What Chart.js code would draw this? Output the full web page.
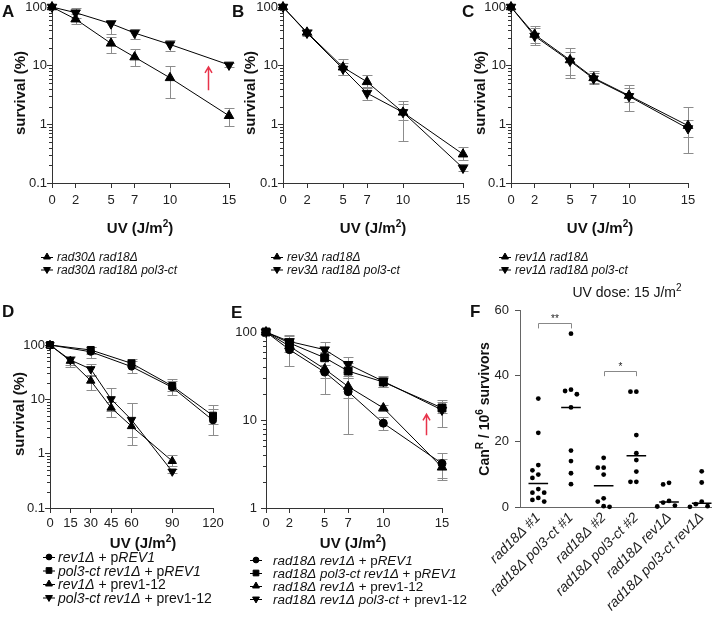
<!DOCTYPE html>
<html>
<head>
<meta charset="utf-8">
<title>UV survival and CanR mutagenesis</title>
<script src="https://cdn.jsdelivr.net/npm/chart.js@4.4.1/dist/chart.umd.min.js"></script>
<style>
  html, body { margin: 0; padding: 0; overflow: hidden; background: #fff; }
  #fig { position: relative; width: 712px; height: 618px; overflow: hidden; }
  #fig canvas { position: absolute; }
</style>
</head>
<body>
<div id="fig">
  <canvas id="panelA"></canvas>
  <canvas id="panelB"></canvas>
  <canvas id="panelC"></canvas>
  <canvas id="panelD"></canvas>
  <canvas id="panelE"></canvas>
  <canvas id="panelF"></canvas>
</div>
<script>
// values (survival in %, CanR per 10^6 survivors)

const doses = [0, 2, 5, 7, 10, 15];
const dosesDPlasmid = [0, 30, 60, 90, 120];
const dosesDMutant = [0, 15, 30, 45, 60, 90];
const doseTicks = [0, 2, 5, 7, 10, 15];
const doseTicksD = [0, 15, 30, 45, 60, 90, 120];
const survivalTicks = [0.1, 1, 10, 100];
const survivalTicksE = [1, 10, 100];

// A
const aLabels = ['*rad30Δ rad18Δ*', '*rad30Δ rad18Δ pol3-ct*'];
const aRad30 = [100, 62, 24, 14, 6.2, 1.4];
const aRad30Lo = [null, 51, 16.5, 10, 2.8, 0.95];
const aRad30Hi = [null, 75, 31, 19, 10, 1.9];
const aRad30Pol3 = [100, 80, 52, 36, 23, 10.3];
const aRad30Pol3Lo = [null, 66, 35, 28, 18, 9.6];
const aRad30Pol3Hi = [null, 95, 60, 42, 27, 11];

// B
const bLabels = ['*rev3Δ rad18Δ*', '*rev3Δ rad18Δ pol3-ct*'];
const bRev3 = [100, 37, 9.4, 5.3, 1.6, 0.31];
const bRev3Lo = [null, 33, 6.8, 4.3, 0.53, 0.25];
const bRev3Hi = [null, 42, 13, 7, 2.5, 0.41];
const bRev3Pol3 = [100, 36, 8.8, 3.4, 1.6, 0.18];
const bRev3Pol3Lo = [null, 32, 7, 2.55, 1.2, 0.16];
const bRev3Pol3Hi = [null, 41, 11, 4.2, 2.2, 0.21];

// C
const cLabels = ['*rev1Δ rad18Δ*', '*rev1Δ rad18Δ pol3-ct*'];
const cRev1 = [100, 34, 12.5, 6.2, 3.1, 0.95];
const cRev1Lo = [null, 22.8, 6.2, 4.8, 1.66, 0.33];
const cRev1Hi = [null, 48, 20, 8, 4.6, 1.95];
const cRev1Pol3 = [100, 32, 12, 6.0, 3.0, 0.85];
const cRev1Pol3Lo = [null, 24, 6.8, 5, 2.4, 0.6];
const cRev1Pol3Hi = [null, 44, 17, 7.4, 4.2, 1.2];

// D
const dLabels = ['*rev1Δ* + p*REV1*', '*pol3-ct rev1Δ* + p*REV1*', '*rev1Δ* + prev1-12', '*pol3-ct rev1Δ* + prev1-12'];
const dRev1Wt = [100, 75, 40, 16.6, 4.1];
const dRev1WtLo = [null, 58, 31, 12, 2.2];
const dRev1WtHi = [null, 92, 50, 22, 7.8];
const dPol3Wt = [100, 81, 46, 17.6, 5.0];
const dPol3WtLo = [null, 68, 40, 14, 3.5];
const dPol3WtHi = [null, 90, 55, 23.3, 6.5];
const dRev1Mut = [100, 51, 22, 7.0, 3.2, 0.73];
const dRev1MutLo = [null, 40, 14.8, 4.8, 1.45, 0.6];
const dRev1MutHi = [null, 62, 27, 9, 8.5, 0.95];
const dPol3Mut = [100, 53, 36, 10.1, 4.2, 0.47];
const dPol3MutLo = [null, 42, 28, 6, 2, 0.44];
const dPol3MutHi = [null, 60, 44, 16, 8.5, 0.52];

// E
const eLabels = ['*rad18Δ rev1Δ* + p*REV1*', '*rad18Δ pol3-ct rev1Δ* + p*REV1*', '*rad18Δ rev1Δ* + prev1-12', '*rad18Δ rev1Δ pol3-ct* + prev1-12'];
const eRev1Wt = [100, 63, 35, 21, 9.2, 3.2];
const eRev1WtLo = [null, 41, 20, 7, 7.6, 2.1];
const eRev1WtHi = [null, 92, 48, 30, 10.8, 4.2];
const ePol3Wt = [100, 75, 51, 36, 27, 13.7];
const ePol3WtLo = [null, 66, 42, 30, 24, 12];
const ePol3WtHi = [null, 85, 60, 45, 31, 17];
const eRev1Mut = [100, 69, 38, 24, 13.7, 2.9];
const eRev1MutLo = [null, 60, 30, 18, 12.5, 2.2];
const eRev1MutHi = [null, 80, 48, 32, 15, 3.6];
const ePol3Mut = [100, 78, 63, 43, 27.5, 13];
const ePol3MutLo = [null, 68, 55, 35, 23.5, 8.4];
const ePol3MutHi = [null, 91, 77, 52, 31.5, 16];

// F
const fCategories = ['rad18Δ #1', 'rad18Δ pol3-ct #1', 'rad18Δ #2', 'rad18Δ pol3-ct #2', 'rad18Δ rev1Δ', 'rad18Δ pol3-ct rev1Δ'];
const fRad18n1 = [33.1, 22.7, 12.9, 11.3, 10.0, 9.0, 5.6, 4.5, 4.5, 2.9, 2.3, 1.8];
const fPol3n1 = [52.8, 35.8, 35.4, 34.4, 30.4, 17.3, 14.1, 10.4, 7.1];
const fRad18n2 = [15.1, 12.1, 12.1, 10.0, 2.8, 1.8, 0.4, 0.2];
const fPol3n2 = [35.2, 35.2, 22.0, 16.5, 14.4, 10.9, 7.8, 7.8];
const fRev1 = [7.5, 7.0, 2.0, 1.5, 0.6, 0.3];
const fPol3Rev1 = [11.0, 7.6, 1.8, 1.0, 0.4, 0.2];
const fMedians = [7.3, 30.4, 6.6, 15.7, 1.7, 1.3];
const fSignificance = [[0, 1, '**', 56], [2, 3, '*', 41.5]];
const fYTicks = [0, 20, 40, 60];

// ---------- drawing helpers ----------
const FONT = '"Liberation Sans", Arial, Helvetica, sans-serif';
Chart.defaults.font.family = FONT;
Chart.defaults.color = '#222';
Chart.defaults.animation = false;
Chart.defaults.plugins.legend.display = false;
Chart.defaults.plugins.tooltip.enabled = false;

const MARK = {
    up: { pointStyle: 'triangle', rotation: 0, radius: 5.5 },
    down: { pointStyle: 'triangle', rotation: 180, radius: 5.5 },
    circle: { pointStyle: 'circle', rotation: 0, radius: 4 },
    square: { pointStyle: 'rect', rotation: 0, radius: 5.6 }
};

// *...* toggles italics, ^c makes a single superscript character
function richParts(str) {
    const parts = [];
    let italic = false, buf = '';
    for (let i = 0; i < str.length; i++) {
        const c = str[i];
        if (c === '*' || c === '^') {
            if (buf) parts.push({ t: buf, it: italic });
            buf = '';
            if (c === '*') italic = !italic;
            else parts.push({ t: str[++i], it: italic, sup: true });
        } else {
            buf += c;
        }
    }
    if (buf) parts.push({ t: buf, it: italic });
    return parts;
}

function drawRich(ctx, str, x, y, size, weight, align) {
    const parts = richParts(str);
    const fontOf = p => `${p.it ? 'italic ' : ''}${weight} ${p.sup ? Math.round(size * 0.68) : size}px ${FONT}`;
    let total = 0;
    parts.forEach(p => { ctx.font = fontOf(p); p.w = ctx.measureText(p.t).width; total += p.w; });
    let cx = align === 'center' ? x - total / 2 : x;
    ctx.textAlign = 'left';
    ctx.textBaseline = 'alphabetic';
    parts.forEach(p => {
        ctx.font = fontOf(p);
        ctx.fillText(p.t, cx, y + size * 0.36 - (p.sup ? size * 0.42 : 0));
        cx += p.w;
    });
}

function drawRichRotated(ctx, str, x, y, size, weight) {
    ctx.save();
    ctx.translate(x, y);
    ctx.rotate(-Math.PI / 2);
    drawRich(ctx, str, 0, 0, size, weight, 'center');
    ctx.restore();
}

// per-canvas extras (letters, titles, legends, arrows), filled in before each chart is built
const DECO = {};

const decoPlugin = {
    id: 'deco',
    beforeDatasetsDraw(chart) {
        const { ctx, scales } = chart;
        ctx.save();
        ctx.strokeStyle = '#8c8c8c';
        ctx.lineWidth = 1;
        chart.data.datasets.forEach(ds => {
            if (!ds.errLo) return;
            ds.data.forEach((p, i) => {
                if (ds.errLo[i] == null) return;
                const x = Math.round(scales.x.getPixelForValue(p.x)) + 0.5;
                const y1 = Math.round(scales.y.getPixelForValue(ds.errLo[i])) + 0.5;
                const y2 = Math.round(scales.y.getPixelForValue(ds.errHi[i])) + 0.5;
                ctx.beginPath();
                ctx.moveTo(x, y1); ctx.lineTo(x, y2);
                ctx.moveTo(x - 5, y1); ctx.lineTo(x + 5, y1);
                ctx.moveTo(x - 5, y2); ctx.lineTo(x + 5, y2);
                ctx.stroke();
            });
        });
        ctx.restore();
    },
    afterDraw(chart) {
        const d = DECO[chart.canvas.id];
        if (!d) return;
        const { ctx, chartArea, scales } = chart;
        const [ox, oy] = d.L.canvas;
        ctx.save();
        ctx.fillStyle = '#111';

        // panel letter
        ctx.font = `bold 17px ${FONT}`;
        ctx.textAlign = 'left';
        ctx.textBaseline = 'middle';
        ctx.fillText(d.letter, d.L.letter[0] - ox, d.L.letter[1] - oy);

        // axis titles
        if (d.L.yTitle) drawRichRotated(ctx, d.yTitle, d.L.yTitle[0] - ox, d.L.yTitle[1] - oy, d.L.yTitleSize || 15, 'bold');
        if (d.L.xTitle) drawRich(ctx, d.xTitle, d.L.xTitle[0] - ox, d.L.xTitle[1] - oy, 15, 'bold', 'center');
        if (d.L.title) drawRich(ctx, d.title, d.L.title[0] - ox, d.L.title[1] - oy, 14, 'normal', 'center');

        // minor ticks on log axes
        if (scales.y.type === 'logarithmic') {
            const ax = chartArea.left;
            ctx.strokeStyle = '#333';
            ctx.lineWidth = 1;
            ctx.beginPath();
            const e0 = Math.round(Math.log10(scales.y.min)), e1 = Math.round(Math.log10(scales.y.max));
            for (let e = e0; e < e1; e++) {
                for (let k = 2; k < 10; k++) {
                    const py = Math.round(scales.y.getPixelForValue(k * Math.pow(10, e))) + 0.5;
                    ctx.moveTo(ax - 3, py); ctx.lineTo(ax, py);
                }
            }
            ctx.stroke();
        }

        // legend
        if (d.legend) {
            const [mx, my, step, size, textDx] = d.L.legend;
            d.legend.forEach((it, i) => {
                const x = mx - ox, y = my - oy + i * step;
                ctx.strokeStyle = '#000';
                ctx.fillStyle = '#000';
                ctx.lineWidth = 1;
                ctx.beginPath(); ctx.moveTo(x - 6, y + 0.5); ctx.lineTo(x + 6, y + 0.5); ctx.stroke();
                Chart.helpers.drawPoint(ctx, { pointStyle: it.mark.pointStyle, rotation: it.mark.rotation, radius: it.mark.radius * 0.72, borderWidth: 1 }, x, y);
                ctx.fillStyle = '#111';
                drawRich(ctx, it.label, x + textDx, y, size, 'normal', 'left');
            });
        }

        // red arrow
        if (d.arrow) {
            const x = Math.round(scales.x.getPixelForValue(d.arrow.x)) + 0.5;
            const yb = scales.y.getPixelForValue(d.arrow.from), yt = scales.y.getPixelForValue(d.arrow.to);
            ctx.strokeStyle = '#e8334a';
            ctx.lineWidth = 1.5;
            ctx.beginPath();
            ctx.moveTo(x, yb); ctx.lineTo(x, yt + 1);
            ctx.moveTo(x - 3.5, yt + 6); ctx.lineTo(x, yt); ctx.lineTo(x + 3.5, yt + 6);
            ctx.stroke();
        }

        // medians and significance brackets
        if (d.medians) {
            ctx.strokeStyle = '#000';
            ctx.lineWidth = 1.5;
            ctx.beginPath();
            d.medians.forEach((m, i) => {
                const py = scales.y.getPixelForValue(m);
                ctx.moveTo(scales.x.getPixelForValue(i - 0.3), py);
                ctx.lineTo(scales.x.getPixelForValue(i + 0.3), py);
            });
            ctx.stroke();
        }
        if (d.brackets) {
            d.brackets.forEach(([a, b, stars, v]) => {
                const x1 = Math.round(scales.x.getPixelForValue(a)) + 0.5, x2 = Math.round(scales.x.getPixelForValue(b)) + 0.5;
                const py = Math.round(scales.y.getPixelForValue(v)) + 0.5, pd = scales.y.getPixelForValue(v - 1.6);
                ctx.strokeStyle = '#888';
                ctx.lineWidth = 1;
                ctx.beginPath();
                ctx.moveTo(x1, pd); ctx.lineTo(x1, py); ctx.lineTo(x2, py); ctx.lineTo(x2, pd);
                ctx.stroke();
                ctx.fillStyle = '#222';
                ctx.font = `10px ${FONT}`;
                ctx.textAlign = 'center';
                ctx.textBaseline = 'alphabetic';
                ctx.fillText(stars, (x1 + x2) / 2, py - 2);
            });
        }
        ctx.restore();
    }
};

function placeCanvas(id, L) {
    const c = document.getElementById(id);
    const [x, y, w, h] = L.canvas;
    c.width = w; c.height = h;
    c.style.left = x + 'px'; c.style.top = y + 'px';
    c.style.width = w + 'px'; c.style.height = h + 'px';
    return c;
}

function areaPadding(L) {
    const [x, y, w, h] = L.canvas, [l, t, r, b] = L.area;
    return { left: 0, top: t - y, right: x + w - r, bottom: y + h - b - L.xH };
}

function survivalChart(id, L, series, xTicks, yTicks) {
    const canvas = placeCanvas(id, L);
    return new Chart(canvas, {
        type: 'line',
        data: {
            datasets: series.map(s => ({
                data: s.x.map((x, i) => ({ x, y: s.y[i] })),
                errLo: s.lo,
                errHi: s.hi,
                borderColor: '#000',
                borderWidth: 1,
                pointStyle: s.mark.pointStyle,
                pointRotation: s.mark.rotation,
                pointRadius: s.mark.radius * (L.markScale || 1),
                pointBackgroundColor: '#000',
                pointBorderColor: '#000',
                pointBorderWidth: 1,
                tension: 0,
                clip: false
            }))
        },
        options: {
            responsive: false,
            animation: false,
            layout: { padding: areaPadding(L) },
            scales: {
                x: {
                    type: 'linear',
                    min: xTicks[0],
                    max: xTicks[xTicks.length - 1],
                    afterBuildTicks: ax => { ax.ticks = xTicks.map(v => ({ value: v })); },
                    afterFit: ax => { ax.height = L.xH; },
                    ticks: { font: { size: 13 }, padding: L.xPad, maxRotation: 0, autoSkip: false, callback: v => String(v) },
                    grid: { drawOnChartArea: false, tickLength: 5, color: '#333' },
                    border: { color: '#333' }
                },
                y: {
                    type: 'logarithmic',
                    min: yTicks[0],
                    max: yTicks[yTicks.length - 1],
                    afterBuildTicks: ax => { ax.ticks = yTicks.map(v => ({ value: v })); },
                    afterFit: ax => { ax.width = L.area[0] - L.canvas[0]; },
                    ticks: { font: { size: 13 }, padding: L.yPad, autoSkip: false, callback: v => String(v) },
                    grid: { drawOnChartArea: false, tickLength: 5, color: '#333' },
                    border: { color: '#333' }
                }
            }
        },
        plugins: [decoPlugin]
    });
}

// lay one group of dots out as a small beeswarm around its category
function swarm(values, center) {
    const placed = [];
    const offsets = [0, -0.18, 0.18, -0.36, 0.36];
    [...values].sort((a, b) => b - a).forEach(v => {
        const dx = offsets.find(o => placed.every(p => Math.abs(p.x - center - o) > 0.14 || Math.abs(p.y - v) > 1.7));
        placed.push({ x: center + (dx === undefined ? 0 : dx), y: v });
    });
    return placed;
}

// ---------- layout (page pixels) ----------
const LAYOUT = {
    A: { canvas: [0, -5, 246, 292], area: [52, 7, 229, 183], xH: 52, xPad: 5, yPad: 0,
         letter: [2, 12], yTitle: [20, 93], xTitle: [140, 228], legend: [47, 257, 12.5, 12, 10] },
    B: { canvas: [231, -5, 246, 292], area: [283, 7, 463, 183], xH: 52, xPad: 5, yPad: 0,
         letter: [232, 12], yTitle: [250, 93], xTitle: [373, 228], legend: [277, 257, 12.5, 12, 10] },
    C: { canvas: [460, -5, 262, 292], area: [511, 7, 688, 183], xH: 52, xPad: 5, yPad: 0,
         letter: [462, 12], yTitle: [480, 93], xTitle: [600, 228], legend: [505, 257, 12.5, 12, 10] },
    D: { canvas: [0, 290, 240, 328], area: [50, 345, 213, 508], xH: 45, xPad: 3, yPad: 0, markScale: 0.88,
         letter: [2, 312], yTitle: [19, 414], xTitle: [143, 543], legend: [49, 557, 13.5, 14, 9] },
    E: { canvas: [228, 290, 246, 328], area: [266, 332, 442, 508], xH: 45, xPad: 3, yPad: 4,
         letter: [231, 313], xTitle: [353, 543], legend: [256, 560, 13, 13.4, 17] },
    F: { canvas: [468, 280, 260, 338], area: [520, 310, 712, 507.5], xH: 110.5,
         letter: [470, 312], yTitle: [484, 409], yTitleSize: 14, title: [627, 292] }
};

// ---------- panels A-E: survival curves ----------
const uvTitle = 'UV (J/m^2)';
const survTitle = 'survival (%)';
const fourMarks = [MARK.circle, MARK.square, MARK.up, MARK.down];

DECO.panelA = { L: LAYOUT.A, letter: 'A', yTitle: survTitle, xTitle: uvTitle,
    legend: [{ label: aLabels[0], mark: MARK.up }, { label: aLabels[1], mark: MARK.down }],
    arrow: { x: 13.2, from: 3.8, to: 9.5 } };
survivalChart('panelA', LAYOUT.A, [
    { x: doses, y: aRad30, lo: aRad30Lo, hi: aRad30Hi, mark: MARK.up },
    { x: doses, y: aRad30Pol3, lo: aRad30Pol3Lo, hi: aRad30Pol3Hi, mark: MARK.down }
], doseTicks, survivalTicks);

DECO.panelB = { L: LAYOUT.B, letter: 'B', yTitle: survTitle, xTitle: uvTitle,
    legend: [{ label: bLabels[0], mark: MARK.up }, { label: bLabels[1], mark: MARK.down }] };
survivalChart('panelB', LAYOUT.B, [
    { x: doses, y: bRev3, lo: bRev3Lo, hi: bRev3Hi, mark: MARK.up },
    { x: doses, y: bRev3Pol3, lo: bRev3Pol3Lo, hi: bRev3Pol3Hi, mark: MARK.down }
], doseTicks, survivalTicks);

DECO.panelC = { L: LAYOUT.C, letter: 'C', yTitle: survTitle, xTitle: uvTitle,
    legend: [{ label: cLabels[0], mark: MARK.up }, { label: cLabels[1], mark: MARK.down }] };
survivalChart('panelC', LAYOUT.C, [
    { x: doses, y: cRev1, lo: cRev1Lo, hi: cRev1Hi, mark: MARK.up },
    { x: doses, y: cRev1Pol3, lo: cRev1Pol3Lo, hi: cRev1Pol3Hi, mark: MARK.down }
], doseTicks, survivalTicks);

DECO.panelD = { L: LAYOUT.D, letter: 'D', yTitle: survTitle, xTitle: uvTitle,
    legend: dLabels.map((label, i) => ({ label, mark: fourMarks[i] })) };
survivalChart('panelD', LAYOUT.D, [
    { x: dosesDPlasmid, y: dRev1Wt, lo: dRev1WtLo, hi: dRev1WtHi, mark: MARK.circle },
    { x: dosesDPlasmid, y: dPol3Wt, lo: dPol3WtLo, hi: dPol3WtHi, mark: MARK.square },
    { x: dosesDMutant, y: dRev1Mut, lo: dRev1MutLo, hi: dRev1MutHi, mark: MARK.up },
    { x: dosesDMutant, y: dPol3Mut, lo: dPol3MutLo, hi: dPol3MutHi, mark: MARK.down }
], doseTicksD, survivalTicks);

DECO.panelE = { L: LAYOUT.E, letter: 'E', xTitle: uvTitle,
    legend: eLabels.map((label, i) => ({ label, mark: fourMarks[i] })),
    arrow: { x: 13.6, from: 6.7, to: 11.6 } };
survivalChart('panelE', LAYOUT.E, [
    { x: doses, y: eRev1Wt, lo: eRev1WtLo, hi: eRev1WtHi, mark: MARK.circle },
    { x: doses, y: ePol3Wt, lo: ePol3WtLo, hi: ePol3WtHi, mark: MARK.square },
    { x: doses, y: eRev1Mut, lo: eRev1MutLo, hi: eRev1MutHi, mark: MARK.up },
    { x: doses, y: ePol3Mut, lo: ePol3MutLo, hi: ePol3MutHi, mark: MARK.down }
], doseTicks, survivalTicksE);

// ---------- panel F: CanR frequencies ----------
const fGroups = [fRad18n1, fPol3n1, fRad18n2, fPol3n2, fRev1, fPol3Rev1];
const fPoints = fGroups.flatMap((vals, i) => swarm(vals, i));
const fTicks = fCategories.map((c, i) => i);
const LF = LAYOUT.F;

DECO.panelF = { L: LF, letter: 'F', yTitle: 'Can^R / 10^6 survivors', title: 'UV dose: 15 J/m^2',
    medians: fMedians, brackets: fSignificance };

new Chart(placeCanvas('panelF', LF), {
    type: 'scatter',
    data: {
        datasets: [{
            data: fPoints,
            pointRadius: 2.4,
            pointBackgroundColor: '#000',
            pointBorderWidth: 0,
            clip: false
        }]
    },
    options: {
        responsive: false,
        animation: false,
        layout: { padding: areaPadding(LF) },
        scales: {
            x: {
                type: 'linear',
                min: -0.56,
                max: 5.315,
                afterBuildTicks: ax => { ax.ticks = fTicks.map(v => ({ value: v })); },
                afterFit: ax => { ax.height = LF.xH; },
                ticks: { font: { size: 14, style: 'italic' }, padding: 2, minRotation: 45, maxRotation: 45, autoSkip: false,
                         callback: v => fCategories[v] },
                grid: { drawOnChartArea: false, drawTicks: false, color: '#666' },
                border: { color: '#666' }
            },
            y: {
                type: 'linear',
                min: fYTicks[0],
                max: fYTicks[fYTicks.length - 1],
                afterBuildTicks: ax => { ax.ticks = fYTicks.map(v => ({ value: v })); },
                afterFit: ax => { ax.width = LF.area[0] - LF.canvas[0]; },
                ticks: { font: { size: 13 }, padding: 6, callback: v => String(v) },
                grid: { drawOnChartArea: false, tickLength: 5, color: '#555' },
                border: { color: '#666' }
            }
        }
    },
    plugins: [decoPlugin]
});
</script>
</body>
</html>
